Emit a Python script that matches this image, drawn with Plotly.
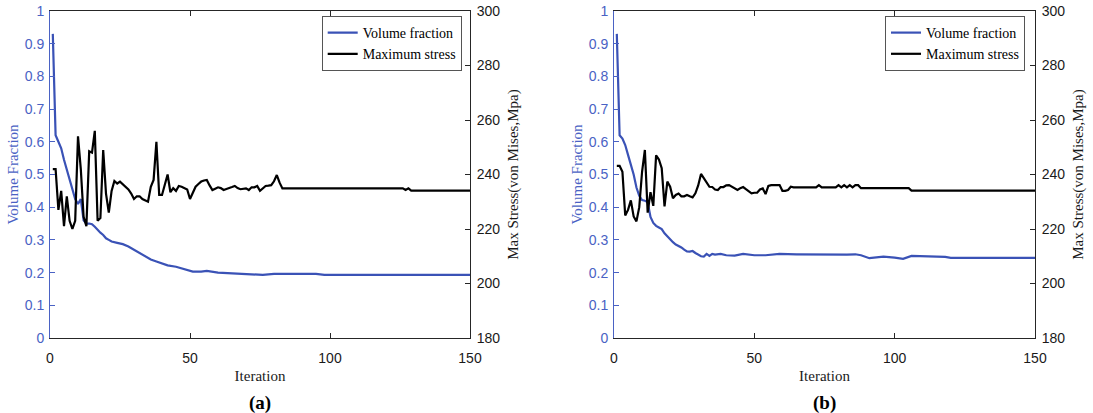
import plotly.graph_objects as go

# ---- (a) optimisation history ----
iter_a_vf = list(range(1, 23)) + [24, 26, 28, 30, 33, 36, 38, 40, 42, 45, 48, 51,
                                   54, 56, 60, 65, 70, 74, 76, 80, 95, 98, 150]
vf_a = [0.93, 0.62, 0.60, 0.58, 0.545, 0.515, 0.485, 0.455, 0.425, 0.41, 0.425,
        0.36, 0.35, 0.35, 0.348, 0.34, 0.33, 0.322, 0.315, 0.305, 0.30, 0.295,
        0.291, 0.287, 0.28, 0.27, 0.255, 0.24, 0.234, 0.227, 0.222, 0.218, 0.21,
        0.203, 0.203, 0.205, 0.20, 0.198, 0.196, 0.196, 0.193, 0.196, 0.196,
        0.193, 0.193]

iter_a_stress = list(range(1, 84)) + [126, 127, 128, 129, 150]
stress_a = [242, 242, 227, 234, 221, 232, 223, 220, 223, 254,
            242, 224.5, 221, 248.5, 248, 256, 223, 224, 249, 233,
            226, 234, 237.6, 236.7, 237.4, 236.5, 235.5, 234.5, 233, 231,
            232, 232, 231, 230.5, 230, 235.5, 238, 252, 232.5, 232.5,
            236, 240, 233.5, 235, 234, 235.8, 235.5, 235, 234.5, 231,
            233, 235.5, 236.5, 237.4, 237.8, 238, 236, 234.3, 234.8, 235.3,
            235, 234.3, 234.7, 235.2, 235.4, 235.8, 235, 234.6, 234.8, 234.9,
            234.3, 235.3, 235.3, 235.8, 234, 235, 235.8, 235.9, 236.1, 237.5,
            239.8, 237, 234.9,
            234.9, 234.3, 234.9, 234.1, 234.1]

# ---- (b) optimisation history ----
iter_b_vf = list(range(1, 37)) + [38, 40, 43, 46, 48, 50, 54, 57, 59, 65, 71, 83,
                                   86, 88, 91, 96, 100, 103, 106, 111, 114, 118,
                                   120, 150]
vf_b = [0.93, 0.62, 0.61, 0.59, 0.56, 0.53, 0.50, 0.46, 0.435, 0.422,
        0.42, 0.415, 0.37, 0.352, 0.343, 0.338, 0.333, 0.32, 0.31, 0.302,
        0.293, 0.286, 0.282, 0.277, 0.27, 0.265, 0.264, 0.266, 0.26, 0.254,
        0.25, 0.249, 0.257, 0.251, 0.257, 0.255,
        0.257, 0.253, 0.252, 0.257, 0.254, 0.253, 0.253, 0.256, 0.257, 0.256,
        0.255, 0.255, 0.256, 0.253, 0.244, 0.249, 0.246, 0.242, 0.251, 0.249,
        0.25, 0.248, 0.245, 0.245]

iter_b_stress = list(range(1, 65)) + [72, 73, 74, 79, 80, 81, 82, 83, 84, 85,
                                      86, 87, 88, 105, 106, 150]
stress_b = [243.2, 243.2, 241, 225, 227, 230.5, 224.6, 222.8, 228, 241,
            249, 226, 233.5, 228.5, 247, 245.5, 242.3, 228.3, 237.4, 235.5,
            231.3, 232.5, 233, 232, 232, 232.5, 232, 231.6, 233.1, 236,
            240.2, 238.5, 237, 235.5, 235.4, 234.5, 234.3, 235.4, 235.4, 236,
            236.1, 235.4, 235, 234.3, 235, 235.4, 234.6, 234, 233.1, 233.3,
            233.3, 234.5, 234.9, 232.8, 235.8, 236.1, 236.1, 236.1, 236.1, 234,
            234, 234.3, 235.5, 235.3,
            235.3, 236.1, 235.3, 235.3, 236.1, 235.3, 236.1, 235.3, 236.1, 235.3,
            236.1, 236.1, 235.0, 235.0, 234.1, 234.1]

x_ticks = [0, 50, 100, 150]
panel_labels = ["(a)", "(b)"]

W, H = 1093, 413
BLUE = "#3a52b6"
AX_BLUE = "#4a62c4"
DARK = "#262626"
SANS = "Liberation Sans, Arial, sans-serif"
SERIF = "Liberation Serif, Times New Roman, serif"

# pixel frame of each panel
panels = [(50, 470), (614, 1035)]
top_px, bottom_px = 11, 338
y_dom = [1 - bottom_px / H, 1 - top_px / H]

fig = go.Figure()
series = [(iter_a_vf, vf_a, iter_a_stress, stress_a),
          (iter_b_vf, vf_b, iter_b_stress, stress_b)]
for k, (ix, v, isx, s) in enumerate(series):
    xa = "x" if k == 0 else "x2"
    yv = "y" if k == 0 else "y3"
    ys = "y2" if k == 0 else "y4"
    lg = "legend" if k == 0 else "legend2"
    fig.add_trace(go.Scatter(x=ix, y=v, mode="lines", name="Volume fraction",
                             line=dict(color=BLUE, width=2.2),
                             xaxis=xa, yaxis=yv, legend=lg))
    fig.add_trace(go.Scatter(x=isx, y=s, mode="lines", name="Maximum stress",
                             line=dict(color="black", width=2.2),
                             xaxis=xa, yaxis=ys, legend=lg))

layout = dict(width=W, height=H, margin=dict(l=0, r=0, t=0, b=0),
              paper_bgcolor="white", plot_bgcolor="white", showlegend=True)

for k, (x0, x1) in enumerate(panels):
    xs = "" if k == 0 else "2"
    yv = "" if k == 0 else "3"
    ys = "2" if k == 0 else "4"
    layout["xaxis" + xs] = dict(
        domain=[x0 / W, x1 / W], range=[0, 150], anchor="y" + yv,
        tickvals=x_ticks, ticks="inside", ticklen=5, tickcolor=DARK,
        showline=True, linecolor=DARK, linewidth=1, mirror="ticks",
        showgrid=False, zeroline=False, automargin=False,
        tickfont=dict(family=SANS, size=14, color="#1a1a1a"),
        ticklabelstandoff=7,
        title=dict(text="Iteration", font=dict(family=SERIF, size=15, color="#1a1a1a"),
                   standoff=5))
    layout["yaxis" + yv] = dict(
        domain=y_dom, range=[0, 1], dtick=0.1, anchor="x" + xs,
        ticks="inside", ticklen=5, tickcolor=AX_BLUE,
        showline=True, linecolor=AX_BLUE, linewidth=1,
        showgrid=False, zeroline=False, automargin=False,
        tickfont=dict(family=SANS, size=14, color=AX_BLUE),
        ticklabelstandoff=2,
        title=dict(text="Volume Fraction", font=dict(family=SERIF, size=15, color=AX_BLUE),
                   standoff=2))
    layout["yaxis" + ys] = dict(
        overlaying="y" + yv, side="right", anchor="x" + xs,
        range=[180, 300], dtick=20,
        ticks="inside", ticklen=5, tickcolor=DARK,
        showline=True, linecolor=DARK, linewidth=1,
        showgrid=False, zeroline=False, automargin=False,
        tickfont=dict(family=SANS, size=14, color="#1a1a1a"),
        ticklabelstandoff=3,
        title=dict(text="Max Stress(von Mises,Mpa)",
                   font=dict(family=SERIF, size=15, color="#1a1a1a"), standoff=8))

legend_right = [461.7, 1025]
for k, xr in enumerate(legend_right):
    name = "legend" if k == 0 else "legend2"
    layout[name] = dict(
        x=xr / W, y=1 - 16 / H, xanchor="right", yanchor="top",
        bgcolor="white", bordercolor="#555555", borderwidth=1,
        font=dict(family=SERIF, size=14, color="black"),
        tracegroupgap=0, itemwidth=30)

layout["annotations"] = [
    dict(text="<b>" + lab + "</b>", x=(x0 + x1) / 2 / W, y=1 - 403 / H,
         xref="paper", yref="paper", xanchor="center", yanchor="middle",
         showarrow=False, font=dict(family=SERIF, size=19, color="black"))
    for lab, (x0, x1) in zip(panel_labels, panels)
]

fig.update_layout(**layout)
fig.write_html("out.html")
